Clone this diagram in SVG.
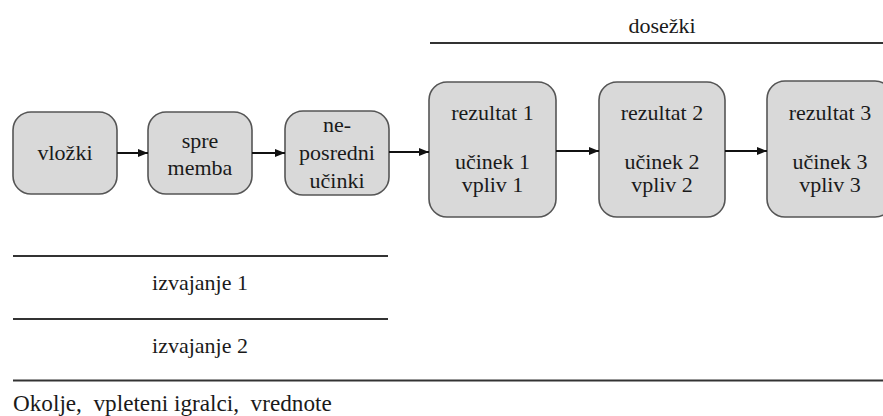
<svg xmlns="http://www.w3.org/2000/svg" width="883" height="416" viewBox="0 0 883 416">
  <style>
    .box { fill: #d9d9d9; stroke: #555555; stroke-width: 1.6; }
    .rule { stroke: #333333; stroke-width: 2; fill: none; }
    .lbl { font-family: "Liberation Serif", Tinos, "Nimbus Roman", FreeSerif, "Noto Serif", "DejaVu Serif", "Times New Roman", Times, serif; font-size: 22px; fill: #1a1a1a; text-anchor: middle; }
    .lft { text-anchor: start; white-space: pre; font-size: 23.2px; }
    .conn { stroke: #111111; stroke-width: 2; fill: none; marker-end: url(#head); }
  </style>
  <defs>
    <marker id="head" viewBox="0 0 10 8" refX="10" refY="4" markerWidth="10" markerHeight="8" markerUnits="userSpaceOnUse" orient="auto">
      <path d="M0,0 L10,4 L0,8 Z" fill="#111111"/>
    </marker>
  </defs>

  <!-- headline bar over the outcome stages -->
  <g id="dosezki">
    <text class="lbl" x="662" y="33">dosežki</text>
    <line class="rule" x1="430" y1="43" x2="883" y2="43"/>
  </g>

  <g id="n-vlozki">
    <rect class="box" x="13" y="112" width="104" height="82" rx="18"/>
    <text class="lbl" x="65" y="160">vložki</text>
  </g>
  <g id="n-sprememba">
    <rect class="box" x="148" y="112" width="104" height="82" rx="18"/>
    <text class="lbl" x="200" y="148">spre</text>
    <text class="lbl" x="200" y="175">memba</text>
  </g>
  <g id="n-neposredni">
    <rect class="box" x="285" y="111" width="104" height="84" rx="18"/>
    <text class="lbl" x="337" y="132">ne-</text>
    <text class="lbl" x="337" y="160">posredni</text>
    <text class="lbl" x="337" y="188">učinki</text>
  </g>
  <g id="n-rezultat1">
    <rect class="box" x="429" y="82" width="127" height="135" rx="18"/>
    <text class="lbl" x="492.5" y="120">rezultat 1</text>
    <text class="lbl" x="492.5" y="169">učinek 1</text>
    <text class="lbl" x="492.5" y="192">vpliv 1</text>
  </g>
  <g id="n-rezultat2">
    <rect class="box" x="599" y="82" width="126" height="135" rx="18"/>
    <text class="lbl" x="662" y="120">rezultat 2</text>
    <text class="lbl" x="662" y="169">učinek 2</text>
    <text class="lbl" x="662" y="192">vpliv 2</text>
  </g>
  <g id="n-rezultat3">
    <rect class="box" x="767" y="81" width="126" height="136" rx="18"/>
    <text class="lbl" x="830" y="120">rezultat 3</text>
    <text class="lbl" x="830" y="169">učinek 3</text>
    <text class="lbl" x="830" y="192">vpliv 3</text>
  </g>

  <g id="connectors">
    <line class="conn" x1="117" y1="153" x2="148" y2="153"/>
    <line class="conn" x1="252" y1="153" x2="285" y2="153"/>
    <line class="conn" x1="389" y1="152" x2="429" y2="152"/>
    <line class="conn" x1="556" y1="151" x2="599" y2="151"/>
    <line class="conn" x1="725" y1="151" x2="767" y2="151"/>
  </g>

  <!-- implementation bands and context line -->
  <g id="izvajanje1">
    <line class="rule" x1="13" y1="256" x2="388" y2="256"/>
    <text class="lbl" x="200" y="290">izvajanje 1</text>
  </g>
  <g id="izvajanje2">
    <line class="rule" x1="13" y1="319" x2="388" y2="319"/>
    <text class="lbl" x="200" y="353">izvajanje 2</text>
  </g>
  <g id="okolje">
    <line class="rule" x1="13" y1="380.5" x2="883" y2="380.5" stroke-width="2.5"/>
    <text class="lbl lft" x="13" y="411">Okolje,  vpleteni igralci,  vrednote</text>
  </g>
</svg>
